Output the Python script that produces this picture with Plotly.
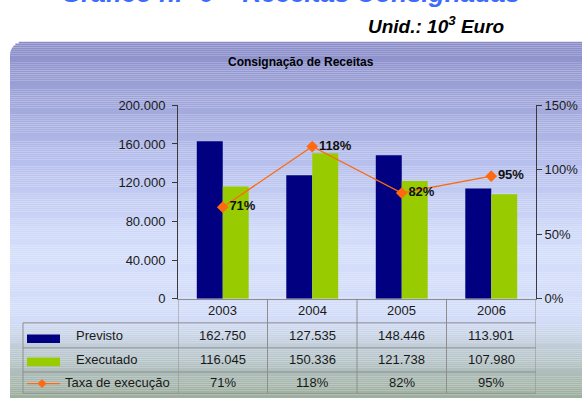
import plotly.graph_objects as go

# ---- data -------------------------------------------------------------
years = ["2003", "2004", "2005", "2006"]
previsto = [162750, 127535, 148446, 113901]
executado = [116045, 150336, 121738, 107980]
taxa_pct = [71, 118, 82, 95]

left_ticks = [0, 40000, 80000, 120000, 160000, 200000]
right_ticks = [0, 0.5, 1.0, 1.5]

W, H = 582, 406
NAVY = "#000080"
GREEN = "#99CC00"
ORANGE = "#FF6A10"
GRID = "#8E8E8E"
FONT = "Liberation Sans, Arial, sans-serif"


def px(x):
    return x / W


def py(y):
    return 1 - y / H


def fmt_thousands(v):
    return f"{v:,}".replace(",", ".")


fig = go.Figure()

fig.add_trace(go.Bar(x=years, y=previsto, name="Previsto", marker_color=NAVY,
                     marker_line_width=0))
fig.add_trace(go.Bar(x=years, y=executado, name="Executado", marker_color=GREEN,
                     marker_line_width=0))
fig.add_trace(go.Scatter(
    x=years, y=[t / 100 for t in taxa_pct], yaxis="y2", name="Taxa de execução",
    mode="lines+markers+text",
    line=dict(color=ORANGE, width=1.3),
    marker=dict(symbol="diamond", size=9, color=ORANGE),
    text=[f"<b>{t}%</b>" for t in taxa_pct], textposition="middle right",
    textfont=dict(family=FONT, size=13, color="#111111"),
))

shapes = []

# ---- panel background: vertical gradient with rounded top-left corner --
stops = [(36, (0x8A, 0x8D, 0xC8)), (165, (0xB8, 0xC1, 0xEE)),
         (250, (0xD4, 0xDE, 0xFB)), (325, (0xD3, 0xDD, 0xF8)),
         (406, (0x9C, 0xAE, 0x9C))]


def grad(y):
    for (y0, c0), (y1, c1) in zip(stops, stops[1:]):
        if y0 <= y <= y1:
            t = (y - y0) / (y1 - y0)
            return "rgb(%d,%d,%d)" % tuple(round(a + (b - a) * t) for a, b in zip(c0, c1))
    return "rgb(%d,%d,%d)" % stops[-1][1]


top, left, r, step = 36, 10, 14, 2
y = top
while y < H:
    dy = y - top + step / 2
    x0 = left
    if dy < r:
        x0 = left + r - (r * r - (r - dy) ** 2) ** 0.5
    shapes.append(dict(type="rect", xref="paper", yref="paper", layer="below",
                       x0=px(x0), x1=1, y0=py(y + step), y1=py(y),
                       fillcolor=grad(y + step / 2), line_width=0))
    y += step

# ---- data table under the plot -----------------------------------------
row_y = [303, 328, 354, 379, 401]
tbl_left = 23
line = dict(color=GRID, width=1)
# horizontal rules
for yy in row_y[1:]:
    shapes.append(dict(type="line", xref="paper", yref="paper",
                       x0=px(tbl_left), x1=px(536), y0=py(yy), y1=py(yy), line=line))
# category column boundaries (from the axis scale)
for b in [i - 0.5 for i in range(len(years) + 1)]:
    shapes.append(dict(type="line", xref="x", yref="paper",
                       x0=b, x1=b, y0=py(303), y1=py(401), line=line))
# left border of the legend column
shapes.append(dict(type="line", xref="paper", yref="paper",
                   x0=px(tbl_left), x1=px(tbl_left), y0=py(328), y1=py(401), line=line))

# legend keys
shapes.append(dict(type="rect", xref="paper", yref="paper", x0=px(27), x1=px(60),
                   y0=py(349), y1=py(340), fillcolor=NAVY, line_width=0))
shapes.append(dict(type="rect", xref="paper", yref="paper", x0=px(27), x1=px(60),
                   y0=py(373), y1=py(364), fillcolor=GREEN, line_width=0))
shapes.append(dict(type="line", xref="paper", yref="paper", x0=px(27), x1=px(60),
                   y0=py(391), y1=py(391), line=dict(color=ORANGE, width=1.3)))
cx, cy, d = 42, 391, 4.5
shapes.append(dict(type="path", xref="paper", yref="paper",
                   path=f"M {px(cx - d)},{py(cy)} L {px(cx)},{py(cy - d)} "
                        f"L {px(cx + d)},{py(cy)} L {px(cx)},{py(cy + d)} Z",
                   fillcolor=ORANGE, line_width=0))

annotations = []
cell_font = dict(family=FONT, size=13, color="#1a1a1a")
row_centers = [315.5, 341, 366.5, 390]
rows = [years,
        [fmt_thousands(v) for v in previsto],
        [fmt_thousands(v) for v in executado],
        [f"{t}%" for t in taxa_pct]]
for yc, vals in zip(row_centers, rows):
    for i, txt in enumerate(vals):
        annotations.append(dict(xref="x", yref="paper", x=i, y=py(yc), text=txt,
                                showarrow=False, font=cell_font,
                                xanchor="center", yanchor="middle"))
for txt, xs, yc in [("Previsto", 74, 341), ("Executado", 74, 366.5),
                    ("Taxa de execução", 63, 390)]:
    annotations.append(dict(xref="paper", yref="paper", x=px(xs), y=py(yc), text=txt,
                            showarrow=False, font=cell_font,
                            xanchor="left", yanchor="middle"))

# ---- titles ------------------------------------------------------------
annotations.append(dict(xref="paper", yref="paper", x=px(301), y=py(57),
                        text="<b>Consignação de Receitas</b>", showarrow=False,
                        font=dict(family=FONT, size=12, color="#000000"),
                        xanchor="center", yanchor="middle"))
annotations.append(dict(xref="paper", yref="paper", x=px(506), y=py(19),
                        text="<b><i>Unid.: 10<sup>3</sup> Euro</i></b>", showarrow=False,
                        font=dict(family=FONT, size=19, color="#000000"),
                        xanchor="right", yanchor="middle"))
annotations.append(dict(xref="paper", yref="paper", x=px(522), y=py(-15),
                        text="<b><i>Gráfico n.º 6 – Receitas Consignadas</i></b>",
                        showarrow=False,
                        font=dict(family=FONT, size=26, color="#3D6BFF"),
                        xanchor="right", yanchor="middle"))

axis_col = "#3a3a3a"
tick_font = dict(family=FONT, size=13, color="#1a1a1a")
fig.update_layout(
    width=W, height=H, autosize=False,
    margin=dict(l=0, r=0, t=0, b=0),
    paper_bgcolor="white", plot_bgcolor="rgba(0,0,0,0)",
    separators=",.",
    showlegend=False,
    barmode="group", bargap=0.42, bargroupgap=0,
    xaxis=dict(type="category", domain=[px(178), px(536)], range=[-0.5, 3.5],
               showticklabels=False, ticks="", showgrid=False, showline=True,
               linecolor=GRID, linewidth=1, zeroline=False, fixedrange=True),
    yaxis=dict(domain=[py(303), py(102)], range=[0, 200000], tickvals=left_ticks,
               tickformat=",.0f", ticks="outside", ticklen=5, tickcolor=axis_col,
               showline=True, linecolor=axis_col, linewidth=1, showgrid=False,
               zeroline=False, tickfont=tick_font, ticklabelstandoff=4),
    yaxis2=dict(overlaying="y", side="right", range=[0, 1.5], tickvals=right_ticks,
                tickformat=".0%", ticks="outside", ticklen=5, tickcolor=axis_col,
                showline=True, linecolor=axis_col, linewidth=1, showgrid=False,
                zeroline=False, tickfont=tick_font, anchor="x"),
    shapes=shapes,
    annotations=annotations,
    font=dict(family=FONT),
)

fig.write_html("out.html")
